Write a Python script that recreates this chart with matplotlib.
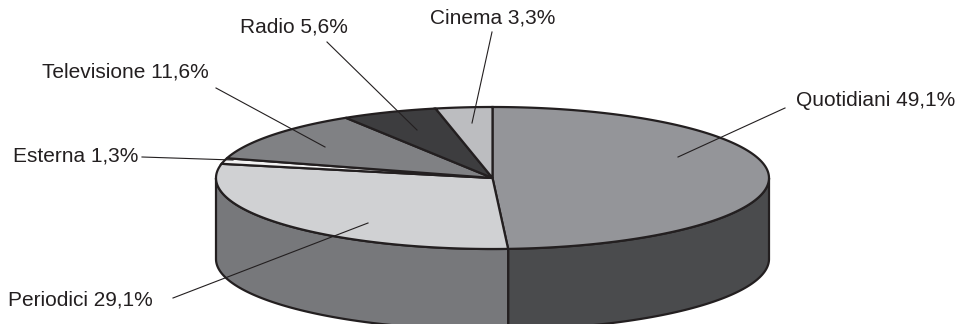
import matplotlib
matplotlib.use('Agg')
import matplotlib.pyplot as plt
import numpy as np
from matplotlib.patches import Polygon

plt.rcParams['font.family'] = ['Liberation Sans', 'DejaVu Sans']

# share of advertising spend by medium (clockwise from 12 o'clock)
media = ['Quotidiani', 'Periodici', 'Esterna', 'Televisione', 'Radio', 'Cinema']
shares = [49.1, 29.1, 1.3, 11.6, 5.6, 3.3]
top_colors = ['#949599', '#d0d1d3', '#f2f2f2', '#808184', '#3d3d3f', '#bcbdc0']
side_colors = ['#4a4b4d', '#77787b', '#d0d0d0', '#5a5b5d', '#2a2a2a', '#8a8b8d']

# label text position and leader line (from text to slice)
label_xy = [(796, 100), (8, 300), (13, 156), (42, 72), (240, 27), (430, 18)]
leader = [((785, 108), (678, 157)), ((173, 298), (368, 223)), ((142, 157), (233, 160)),
          ((216, 88), (325, 147)), ((327, 42), (417, 130)), ((492, 32), (472, 123))]

cx, cy, a, b, depth = 492.5, 178, 276.5, 71, 81
edge = '#231f20'

fig = plt.figure(figsize=(9.62, 3.24), dpi=100)
ax = fig.add_axes([0, 0, 1, 1])
ax.set_xlim(0, 962)
ax.set_ylim(324, 0)
ax.axis('off')


def arc(t1, t2, dy=0, n=200):
    t = np.radians(np.linspace(t1, t2, n))
    return np.column_stack([cx + a * np.cos(t), cy - b * np.sin(t) + dy])


# slice boundaries in degrees, clockwise from the top
bounds = 90 - 3.6 * np.concatenate([[0], np.cumsum(shares)])

# front walls (only the part facing the viewer, angles between -180 and 0)
for i in range(len(shares)):
    hi, lo = bounds[i], bounds[i + 1]
    for shift in (0, -360, 360):
        h, l = hi + shift, lo + shift
        s, e = max(l, -180), min(h, 0)
        if s < e:
            top = arc(e, s)
            bot = arc(s, e, depth)
            ax.add_patch(Polygon(np.vstack([top, bot]), closed=True,
                                 facecolor=side_colors[i], edgecolor=edge, lw=1.6, zorder=1))

# top face
for i in range(len(shares)):
    pts = np.vstack([[cx, cy], arc(bounds[i], bounds[i + 1])])
    ax.add_patch(Polygon(pts, closed=True, facecolor=top_colors[i],
                         edgecolor=edge, lw=1.6, zorder=2, joinstyle='miter'))

# labels and leader lines
for name, v, (tx, ty), (p0, p1) in zip(media, shares, label_xy, leader):
    txt = f"{name} {v:.1f}%".replace('.', ',')
    ax.text(tx, ty, txt, fontsize=15, color='#231f20', ha='left', va='center', zorder=4)
    ax.plot([p0[0], p1[0]], [p0[1], p1[1]], color=edge, lw=0.8, zorder=3)

fig.savefig('out.png', dpi=100)
